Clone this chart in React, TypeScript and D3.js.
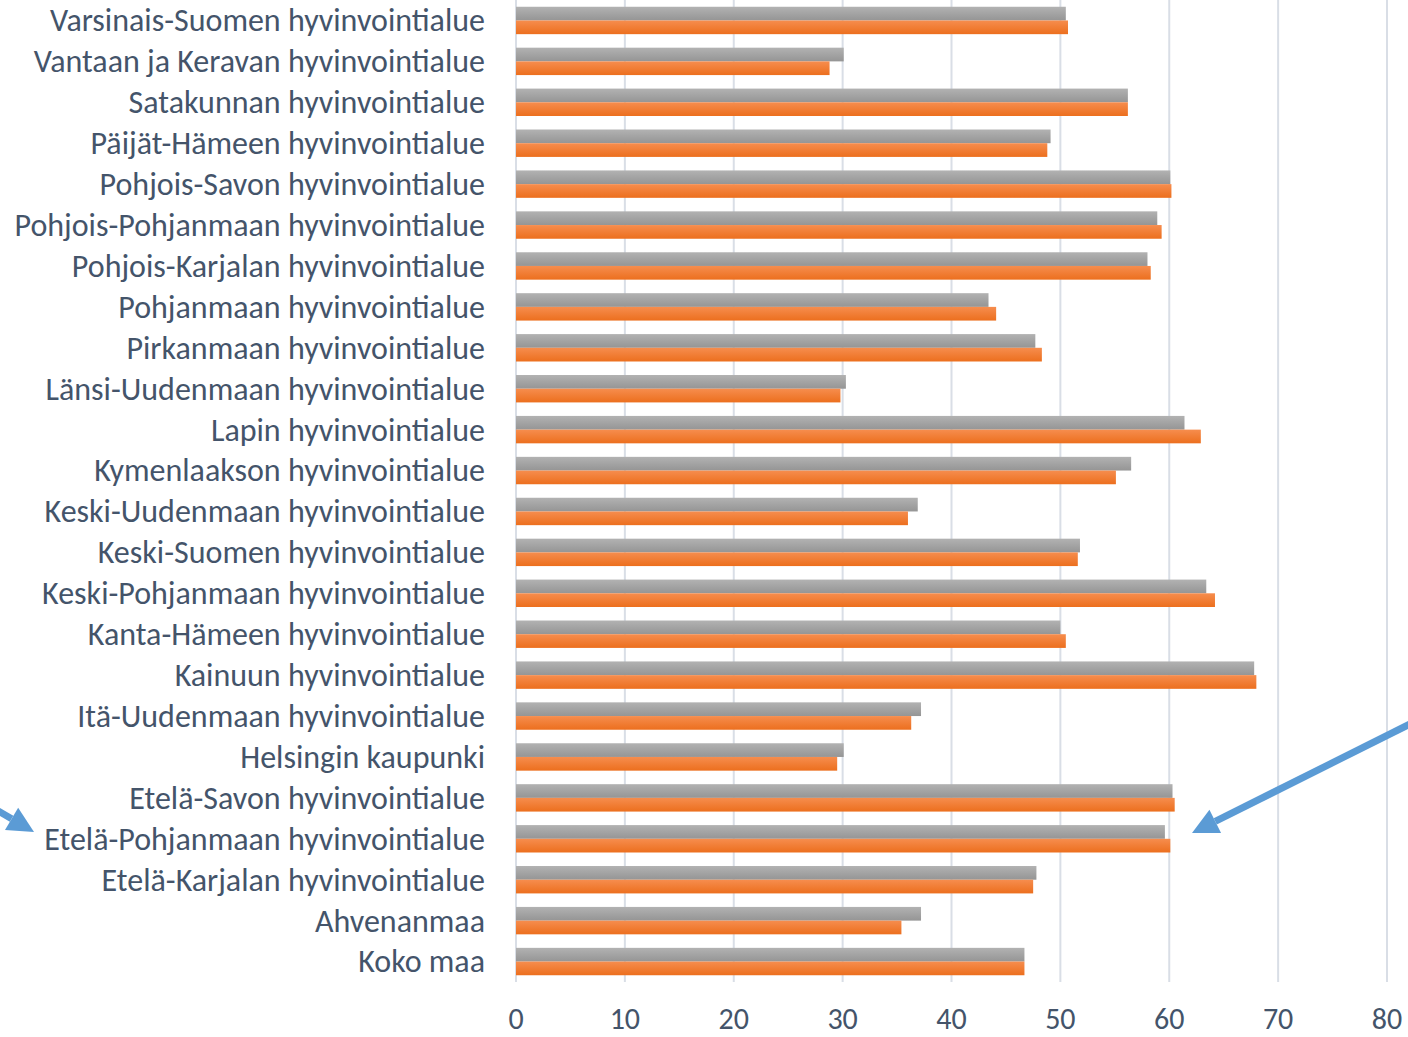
import { useRef, useEffect } from "react";
import * as d3 from "d3";

const categories = [
  "Varsinais-Suomen hyvinvointialue",
  "Vantaan ja Keravan hyvinvointialue",
  "Satakunnan hyvinvointialue",
  "Päijät-Hämeen hyvinvointialue",
  "Pohjois-Savon hyvinvointialue",
  "Pohjois-Pohjanmaan hyvinvointialue",
  "Pohjois-Karjalan hyvinvointialue",
  "Pohjanmaan hyvinvointialue",
  "Pirkanmaan hyvinvointialue",
  "Länsi-Uudenmaan hyvinvointialue",
  "Lapin hyvinvointialue",
  "Kymenlaakson hyvinvointialue",
  "Keski-Uudenmaan hyvinvointialue",
  "Keski-Suomen hyvinvointialue",
  "Keski-Pohjanmaan hyvinvointialue",
  "Kanta-Hämeen hyvinvointialue",
  "Kainuun hyvinvointialue",
  "Itä-Uudenmaan hyvinvointialue",
  "Helsingin kaupunki",
  "Etelä-Savon hyvinvointialue",
  "Etelä-Pohjanmaan hyvinvointialue",
  "Etelä-Karjalan hyvinvointialue",
  "Ahvenanmaa",
  "Koko maa",
];

const grayValues = [
  50.5, 30.1, 56.2, 49.1, 60.1, 58.9, 58.0, 43.4, 47.7, 30.3, 61.4, 56.5,
  36.9, 51.8, 63.4, 50.0, 67.8, 37.2, 30.1, 60.3, 59.6, 47.8, 37.2, 46.7,
];

const orangeValues = [
  50.7, 28.8, 56.2, 48.8, 60.2, 59.3, 58.3, 44.1, 48.3, 29.8, 62.9, 55.1,
  36.0, 51.6, 64.2, 50.5, 68.0, 36.3, 29.5, 60.5, 60.1, 47.5, 35.4, 46.7,
];

const xTicks = [0, 10, 20, 30, 40, 50, 60, 70, 80];

const W = 1408;
const H = 1037;
const TEXT_COLOR = "#44546A";
const GRID_COLOR = "#D9DEE6";
const ARROW_COLOR = "#5B9BD5";
const FONT = "Carlito, Calibri, Lato, sans-serif";

export default function App() {
  const svgRef = useRef<SVGSVGElement>(null);

  useEffect(() => {
    document.body.style.margin = "0";
    if (!svgRef.current) return;
    const svg = d3.select(svgRef.current);
    svg.selectAll("*").remove();

    const x = d3.scaleLinear().domain([0, 80]).range([516, 1387]);
    const y = d3.scaleBand().domain(categories).range([0, 982]).padding(0);
    const barsH = 27.4;
    const inner = d3.scaleBand().domain(["gray", "orange"]).range([0, barsH]);
    const offset = (y.bandwidth() - barsH) / 2;

    const defs = svg.append("defs");
    const grads = [
      { id: "gGray", top: "#B2B2B2", bottom: "#959595" },
      { id: "gOrange", top: "#F68D4E", bottom: "#EC6F1E" },
    ];
    grads.forEach((g) => {
      const lg = defs.append("linearGradient").attr("id", g.id).attr("x1", 0).attr("x2", 0).attr("y1", 0).attr("y2", 1);
      lg.append("stop").attr("offset", "0%").attr("stop-color", g.top);
      lg.append("stop").attr("offset", "100%").attr("stop-color", g.bottom);
    });

    // Grid
    svg.append("g")
      .selectAll("line")
      .data(xTicks)
      .join("line")
      .attr("x1", (d) => x(d)).attr("x2", (d) => x(d))
      .attr("y1", 0).attr("y2", 982)
      .attr("stroke", GRID_COLOR).attr("stroke-width", 2);

    // Tick labels
    svg.append("g")
      .selectAll("text")
      .data(xTicks)
      .join("text")
      .attr("x", (d) => x(d))
      .attr("y", 1019)
      .attr("dy", "0.34em")
      .attr("text-anchor", "middle")
      .style("font-family", FONT)
      .style("font-size", "30px")
      .style("fill", TEXT_COLOR)
      .text((d) => String(d));

    // Category labels
    svg.append("g")
      .selectAll("text")
      .data(categories)
      .join("text")
      .attr("x", 485)
      .attr("y", (d) => (y(d) || 0) + y.bandwidth() / 2)
      .attr("dy", "0.34em")
      .attr("text-anchor", "end")
      .style("font-family", FONT)
      .style("font-size", "32px")
      .style("fill", TEXT_COLOR)
      .text((d) => d);

    // Bars
    const rows = svg.append("g")
      .selectAll("g")
      .data(categories)
      .join("g")
      .attr("transform", (d) => `translate(0,${(y(d) || 0) + offset})`);

    rows.append("rect")
      .attr("x", x(0))
      .attr("y", inner("gray") || 0)
      .attr("height", inner.bandwidth())
      .attr("width", (_, i) => x(grayValues[i]) - x(0))
      .attr("fill", "url(#gGray)");

    rows.append("rect")
      .attr("x", x(0))
      .attr("y", inner("orange") || 0)
      .attr("height", inner.bandwidth())
      .attr("width", (_, i) => x(orangeValues[i]) - x(0))
      .attr("fill", "url(#gOrange)");

    // Arrows
    const drawArrow = (x1: number, y1: number, x2: number, y2: number) => {
      const ang = Math.atan2(y2 - y1, x2 - x1);
      const headLen = 26;
      const headW = 13;
      const bx = x2 - headLen * Math.cos(ang);
      const by = y2 - headLen * Math.sin(ang);
      svg.append("line")
        .attr("x1", x1).attr("y1", y1).attr("x2", bx).attr("y2", by)
        .attr("stroke", ARROW_COLOR).attr("stroke-width", 7);
      const px = -Math.sin(ang) * headW;
      const py = Math.cos(ang) * headW;
      svg.append("path")
        .attr("d", `M${x2},${y2}L${bx + px},${by + py}L${bx - px},${by - py}Z`)
        .attr("fill", ARROW_COLOR);
    };
    drawArrow(1412, 723, 1192, 833);
    drawArrow(-12, 805, 34, 832);
  }, []);

  return <svg ref={svgRef} width={W} height={H} style={{ display: "block" }} />;
}
